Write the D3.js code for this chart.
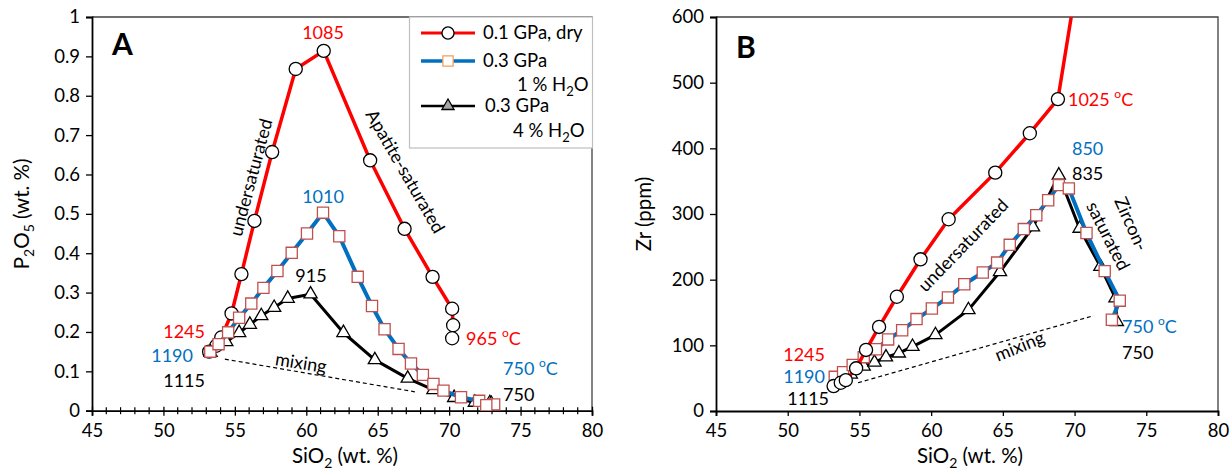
<!DOCTYPE html>
<html>
<head>
<meta charset="utf-8">
<script src="https://cdn.jsdelivr.net/npm/d3@7"></script>
<style>
body { margin: 0; background: #fff; }
svg { font-family: Lato, 'Open Sans', sans-serif; }
</style>
</head>
<body>
<svg id="chart" width="1230" height="472"></svg>
<script>
// 0.1 GPa, dry
var sio2Dry = [53.2, 53.7, 54.05, 54.77, 55.46, 56.37, 57.61, 59.26, 61.22, 64.47, 66.88, 68.84, 70.21, 70.28, 70.21]
var p2o5Dry = [0.150, 0.165, 0.186, 0.247, 0.347, 0.482, 0.657, 0.868, 0.914, 0.636, 0.462, 0.340, 0.259, 0.217, 0.184]
var zrDry = [38, 43, 47, 65, 93, 128, 174, 231, 292, 363, 423, 475, 660, 820, 1000]

// 0.3 GPa, 1 % H2O
var sio2Wet1 = [53.28, 53.86, 54.53, 55.3, 56.15, 57.0, 57.98, 58.98, 60.05, 61.17, 62.31, 63.6, 64.6, 65.48, 66.46, 67.33, 68.16, 68.9, 69.6, 70.83, 72.1, 73.15, 72.6]
var p2o5Wet1 = [0.150, 0.169, 0.199, 0.236, 0.272, 0.312, 0.355, 0.401, 0.450, 0.503, 0.443, 0.340, 0.266, 0.207, 0.157, 0.120, 0.091, 0.068, 0.051, 0.034, 0.025, 0.016, 0.014]
var zrWet1 = [52, 59, 70, 82, 94, 109, 123, 140, 156, 173, 193, 211, 226, 253, 277, 298, 321, 344, 339, 271, 213, 168, 139]

// 0.3 GPa, 4 % H2O
var sio2Wet4 = [53.3, 54.4, 55.3, 56.05, 56.85, 57.75, 58.7, 60.3, 62.6, 64.8, 67.1, 68.9, 70.35, 71.8, 72.85, 72.95]
var p2o5Wet4 = [0.148, 0.175, 0.198, 0.219, 0.241, 0.262, 0.285, 0.296, 0.198, 0.129, 0.082, 0.053, 0.033, 0.021, 0.020, 0.018]
var zrWet4 = [42, 56, 68, 74, 82, 88, 98, 116, 154, 212, 280, 359, 278, 220, 172, 136]

var mixingA = [[54.3, 0.131], [67.6, 0.048]]
var mixingB = [[54.9, 43], [71.3, 145]]

var sio2Ticks = [45, 50, 55, 60, 65, 70, 75, 80]
var p2o5Ticks = [0, 0.1, 0.2, 0.3, 0.4, 0.5, 0.6, 0.7, 0.8, 0.9, 1]
var zrTicks = [0, 100, 200, 300, 400, 500, 600]

var svg = d3.select('#chart')

var styles = {
  dry: { color: '#ff0000', width: 3.5, symbol: d3.symbolCircle, size: 135, stroke: '#000' },
  wet1: { color: '#0070c0', width: 4, symbol: d3.symbolSquare, size: 125, stroke: '#c0504d' },
  wet4: { color: '#000', width: 3, symbol: d3.symbolTriangle, size: 75, stroke: '#000' }
}

var panels = [
  {
    name: 'A', left: 92, right: 592, top: 17, bottom: 410.7,
    yDomain: [0, 1], yTicks: p2o5Ticks, minor: true,
    series: [
      { key: 'dry', x: sio2Dry, y: p2o5Dry },
      { key: 'wet4', x: sio2Wet4, y: p2o5Wet4 },
      { key: 'wet1', x: sio2Wet1, y: p2o5Wet1 }
    ],
    mixing: mixingA,
    labels: [
      { t: '1085', x: 61.17, y: 0.944, c: '#ff0000', a: 'middle' },
      { t: '1010', x: 61.17, y: 0.5276, c: '#0070c0', a: 'middle' },
      { t: '915', x: 60.33, y: 0.327, c: '#000', a: 'middle' },
      { t: '1245', x: 52.91, y: 0.1847, c: '#ff0000', a: 'end' },
      { t: '1190', x: 52.07, y: 0.1237, c: '#0070c0', a: 'end' },
      { t: '1115', x: 52.91, y: 0.0602, c: '#000', a: 'end' },
      { t: '965 ', deg: true, x: 71.18, y: 0.1669, c: '#ff0000', a: 'start' },
      { t: '750 ', deg: true, x: 73.77, y: 0.0907, c: '#0070c0', a: 'start' },
      { t: '750', x: 73.77, y: 0.0246, c: '#000', a: 'start' },
      { t: 'undersaturated', x: 56.55, y: 0.5885, c: '#000', a: 'middle', rot: -75 },
      { t: 'Apatite-saturated', x: 66.55, y: 0.6, c: '#000', a: 'middle', rot: 60 },
      { t: 'mixing', x: 59.56, y: 0.106, c: '#000', a: 'middle', rot: 9 }
    ],
    yTitle: ['P', '2', 'O', '5', ' (wt. %)'], yTitleX: 29
  },
  {
    name: 'B', left: 716, right: 1218, top: 17, bottom: 411,
    yDomain: [0, 600], yTicks: zrTicks, minor: false,
    series: [
      { key: 'wet4', x: sio2Wet4, y: zrWet4 },
      { key: 'wet1', x: sio2Wet1, y: zrWet1 },
      { key: 'dry', x: sio2Dry, y: zrDry }
    ],
    mixing: mixingB,
    labels: [
      { t: '1025 ', deg: true, x: 69.54, y: 464.5, c: '#ff0000', a: 'start' },
      { t: '850', x: 69.82, y: 389.8, c: '#0070c0', a: 'start' },
      { t: '835', x: 69.82, y: 351.8, c: '#000', a: 'start' },
      { t: '1245', x: 52.6, y: 76.1, c: '#ff0000', a: 'end' },
      { t: '1190', x: 52.6, y: 42.6, c: '#0070c0', a: 'end' },
      { t: '1115', x: 52.88, y: 8.4, c: '#000', a: 'end' },
      { t: '750 ', deg: true, x: 73.31, y: 118.8, c: '#0070c0', a: 'start' },
      { t: '750', x: 73.31, y: 79.2, c: '#000', a: 'start' },
      { t: 'undersaturated', x: 62.55, y: 245.8, c: '#000', a: 'middle', rot: -46 },
      { t: 'Zircon-', x: 73.55, y: 281, c: '#000', a: 'middle', rot: 66 },
      { t: 'saturated', x: 71.95, y: 262, c: '#000', a: 'middle', rot: 63 },
      { t: 'mixing', x: 66.33, y: 89.8, c: '#000', a: 'middle', rot: -22 }
    ],
    yTitle: ['Zr (ppm)'], yTitleX: 651
  }
]

panels.forEach(function (p, i) {
  var x = d3.scaleLinear().domain([45, 80]).range([p.left, p.right])
  var y = d3.scaleLinear().domain(p.yDomain).range([p.bottom, p.top])
  var g = svg.append('g')

  g.append('defs').append('clipPath').attr('id', 'clip' + i)
    .append('rect')
    .attr('x', p.left).attr('y', p.top)
    .attr('width', p.right - p.left).attr('height', p.bottom - p.top)

  // frame (top and right)
  g.append('path')
    .attr('d', 'M' + p.left + ',' + p.top + 'H' + p.right + 'V' + p.bottom)
    .attr('fill', 'none').attr('stroke', '#404040').attr('stroke-width', 1.3)

  // y axis
  var yAxis = g.append('g')
    .attr('transform', 'translate(' + p.left + ',0)')
    .call(d3.axisLeft(y).tickValues(p.yTicks).tickSizeOuter(0).tickSize(6).tickPadding(6)
      .tickFormat(function (d) { return String(d) }))
  yAxis.select('.domain').attr('stroke-width', 1.8)
  yAxis.selectAll('.tick line').attr('stroke-width', 1.3)
  yAxis.selectAll('text').attr('font-size', 18.5).attr('font-family', 'Lato').attr('fill', '#000')

  // x axis
  if (p.minor) {
    g.append('g').selectAll('line')
      .data(d3.range(46, 80).filter(function (d) { return d % 5 !== 0 }))
      .enter().append('line')
      .attr('x1', function (d) { return x(d) }).attr('x2', function (d) { return x(d) })
      .attr('y1', p.bottom - 3.5).attr('y2', p.bottom + 3.5)
      .attr('stroke', '#000').attr('stroke-width', 1.2)
  }
  var xAxis = g.append('g')
    .attr('transform', 'translate(0,' + p.bottom + ')')
    .call(d3.axisBottom(x).tickValues(sio2Ticks).tickSizeOuter(0).tickSize(5).tickPadding(8))
  xAxis.select('.domain').attr('stroke-width', 1.8)
  xAxis.selectAll('.tick line').attr('stroke-width', 1.3).attr('y1', p.minor ? -4 : 0)
  xAxis.selectAll('text').attr('font-size', 18.5).attr('font-family', 'Lato').attr('fill', '#000')

  // axis titles
  var xt = g.append('text')
    .attr('x', (p.left + p.right) / 2 + 3).attr('y', 463)
    .attr('text-anchor', 'middle').attr('font-size', 20.5)
  xt.append('tspan').text('SiO')
  xt.append('tspan').text('2').attr('font-size', 14).attr('dy', 5)
  xt.append('tspan').text(' (wt. %)').attr('dy', -5)

  var yt = g.append('text')
    .attr('transform', 'translate(' + p.yTitleX + ',' + ((p.top + p.bottom) / 2) + ') rotate(-90)')
    .attr('text-anchor', 'middle').attr('font-size', 20.5)
  p.yTitle.forEach(function (s, k) {
    var sub = /^\d$/.test(s)
    yt.append('tspan').text(s)
      .attr('font-size', sub ? 14 : 20.5)
      .attr('dy', k === 0 ? 0 : (sub ? 5 : (/^\d$/.test(p.yTitle[k - 1]) ? -5 : 0)))
  })

  // panel letter
  g.append('text')
    .attr('x', p.left + 20).attr('y', p.name === 'A' ? 55 : 58)
    .attr('font-size', 30).attr('font-weight', 'bold')
    .text(p.name)

  // mixing line
  g.append('line')
    .attr('x1', x(p.mixing[0][0])).attr('y1', y(p.mixing[0][1]))
    .attr('x2', x(p.mixing[1][0])).attr('y2', y(p.mixing[1][1]))
    .attr('stroke', '#000').attr('stroke-width', 1.2).attr('stroke-dasharray', '4,3')

  var plot = g.append('g').attr('clip-path', 'url(#clip' + i + ')')
  var line = d3.line()
    .x(function (d) { return x(d[0]) })
    .y(function (d) { return y(d[1]) })

  p.series.forEach(function (s) {
    var st = styles[s.key]
    var pts = s.x.map(function (v, k) { return [v, s.y[k]] })
    plot.append('path')
      .datum(pts)
      .attr('d', line)
      .attr('fill', 'none')
      .attr('stroke', st.color)
      .attr('stroke-width', st.width)
      .attr('stroke-linejoin', 'round')
    plot.selectAll(null)
      .data(pts)
      .enter().append('path')
      .attr('transform', function (d) { return 'translate(' + x(d[0]) + ',' + y(d[1]) + ')' })
      .attr('d', d3.symbol().type(st.symbol).size(st.size))
      .attr('fill', '#fff')
      .attr('stroke', st.stroke)
      .attr('stroke-width', 1.3)
  })

  // annotations
  p.labels.forEach(function (l) {
    var t = g.append('text')
      .attr('transform', 'translate(' + x(l.x) + ',' + y(l.y) + ')' + (l.rot ? ' rotate(' + l.rot + ')' : ''))
      .attr('text-anchor', l.a)
      .attr('font-size', 18)
      .attr('fill', l.c)
    t.append('tspan').text(l.t)
    if (l.deg) {
      t.append('tspan').text('o').attr('font-size', 12).attr('dy', -8)
      t.append('tspan').text('C').attr('dy', 8)
    }
  })
})

// legend (panel A)
var legend = svg.append('g')
legend.append('rect')
  .attr('x', 409.5).attr('y', 17).attr('width', 183).attr('height', 131)
  .attr('fill', '#fff').attr('stroke', '#bfbfbf').attr('stroke-width', 1.2)

var legendItems = [
  { key: 'dry', ly: 33, lines: [['0.1 GPa, dry', 483, 39]], mstroke: '#000', mfill: '#fff' },
  { key: 'wet1', ly: 61, lines: [['0.3 GPa', 483, 67], ['1 % H', 517, 91, '2', 'O']], mstroke: '#f0a060', mfill: '#fff' },
  { key: 'wet4', ly: 106, lines: [['0.3 GPa', 485, 112], ['4 % H', 513, 137, '2', 'O']], mstroke: '#000', mfill: '#a6a6a6' }
]
legendItems.forEach(function (it) {
  var st = styles[it.key]
  legend.append('line')
    .attr('x1', 421).attr('x2', 475).attr('y1', it.ly).attr('y2', it.ly)
    .attr('stroke', st.color).attr('stroke-width', st.width - 0.5)
  legend.append('path')
    .attr('transform', 'translate(448,' + it.ly + ')')
    .attr('d', d3.symbol().type(st.symbol).size(st.size * 0.85))
    .attr('fill', it.mfill).attr('stroke', it.mstroke).attr('stroke-width', 1.3)
  it.lines.forEach(function (ln) {
    var t = legend.append('text').attr('x', ln[1]).attr('y', ln[2]).attr('font-size', 18.5)
    t.append('tspan').text(ln[0])
    if (ln[3]) {
      t.append('tspan').text(ln[3]).attr('font-size', 13).attr('dy', 5)
      t.append('tspan').text(ln[4]).attr('dy', -5)
    }
  })
})
</script>
</body>
</html>
